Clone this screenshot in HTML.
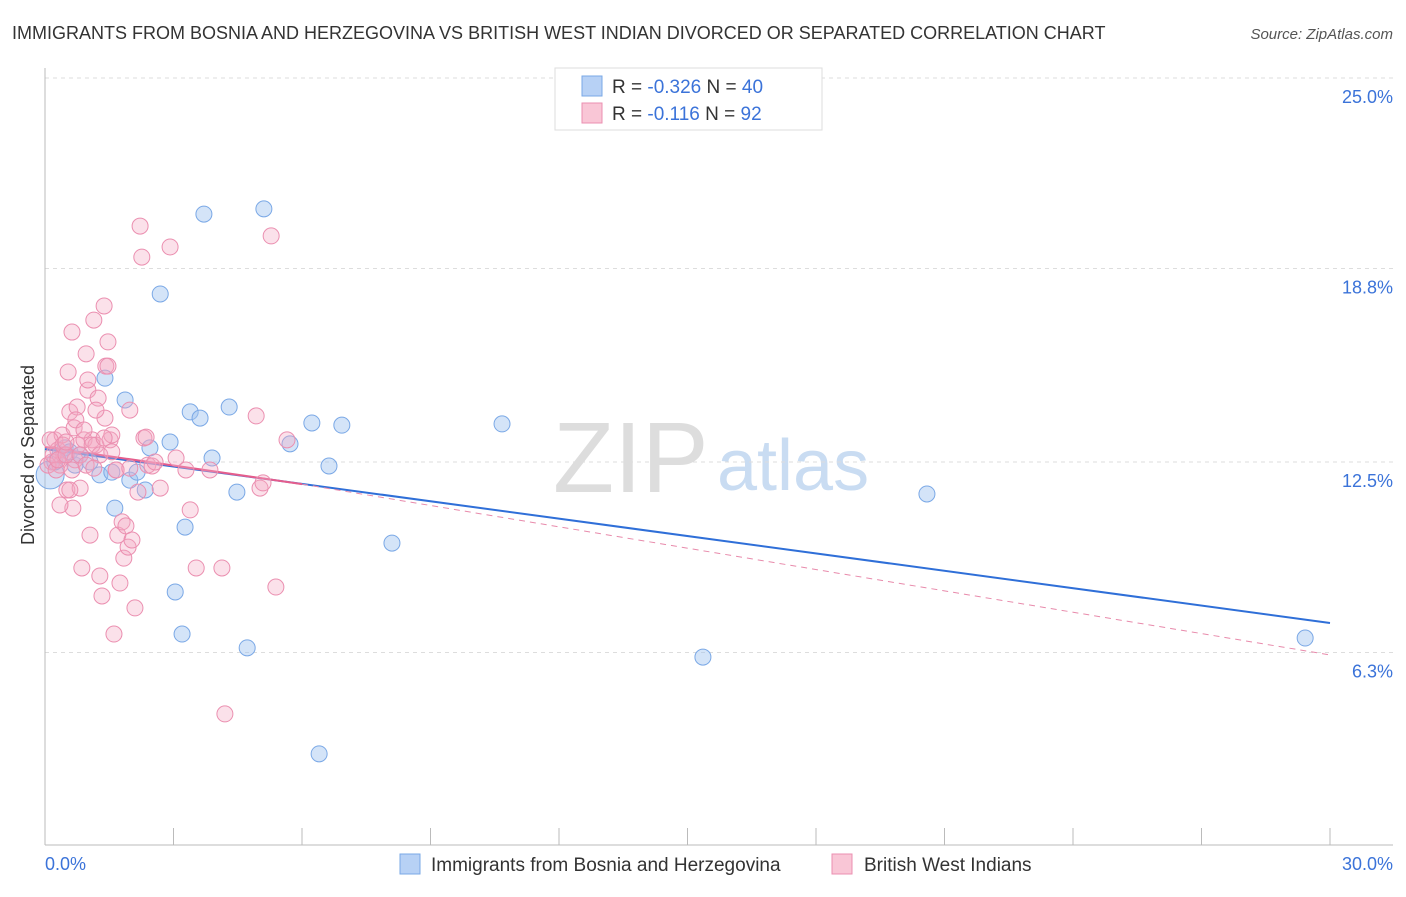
<!DOCTYPE html>
<html><head><meta charset="utf-8">
<style>
body{margin:0;background:#fff;font-family:"Liberation Sans",sans-serif;}
svg text{font-family:"Liberation Sans",sans-serif;}
</style></head>
<body>
<svg id="chart" width="1406" height="892" xmlns="http://www.w3.org/2000/svg">
<text x="12" y="39" font-size="18" fill="#333">IMMIGRANTS FROM BOSNIA AND HERZEGOVINA VS BRITISH WEST INDIAN DIVORCED OR SEPARATED CORRELATION CHART</text>
<text x="1393" y="39" font-size="15" fill="#555" font-style="italic" text-anchor="end">Source: ZipAtlas.com</text>
<g>
<text x="553" y="492" font-size="100" fill="#ddd" font-family="Liberation Serif,serif">ZIP</text>
<text x="717" y="490" font-size="72" fill="#c9dcf2">atlas</text>
</g>
<g id="grid"></g>
<g id="axes"></g>
<g id="trends"></g>
<g id="pts"></g>
<text transform="translate(34,455) rotate(-90)" font-size="18" fill="#333" text-anchor="middle">Divorced or Separated</text>
<g>
<rect x="555" y="68" width="267" height="62" fill="#fff" stroke="#ddd"/>
<rect x="582" y="76" width="20" height="20" fill="#b7d1f5" stroke="#7aa8e6"/>
<text x="612" y="93" font-size="19" fill="#333">R = <tspan fill="#3b73d9">-0.326</tspan>    N = <tspan fill="#3b73d9">40</tspan></text>
<rect x="582" y="103" width="20" height="20" fill="#f9c6d6" stroke="#eb8fb0"/>
<text x="612" y="120" font-size="19" fill="#333">R =   <tspan fill="#3b73d9">-0.116</tspan>    N =  <tspan fill="#3b73d9">92</tspan></text>
</g>
<g>
<rect x="400" y="854" width="20" height="20" fill="#b7d1f5" stroke="#7aa8e6"/>
<text x="431" y="871" font-size="19" fill="#333">Immigrants from Bosnia and Herzegovina</text>
<rect x="832" y="854" width="20" height="20" fill="#f9c6d6" stroke="#eb8fb0"/>
<text x="864" y="871" font-size="19" fill="#333">British West Indians</text>
</g>
</svg>
<script>
const xTicks=[0,3,6,9,12,15,18,21,24,27,30];
const yTicks=[25.0,18.8,12.5,6.3];
const yTickLabels=["25.0%","18.8%","12.5%","6.3%"];
const xLabels=["0.0%","30.0%"];
const blueX=[0.12,0.23,0.35,0.47,0.70,0.58,0.82,1.05,1.28,1.4,1.63,1.56,1.87,1.98,2.15,2.34,2.45,2.69,2.92,3.04,3.2,3.27,3.39,3.62,3.71,3.9,4.3,4.48,4.72,5.11,5.72,6.23,6.4,6.63,6.93,8.1,10.67,15.36,20.59,29.42];
const blueY=[12.08,12.5,12.73,12.96,12.4,12.83,12.73,12.5,12.08,15.23,11.0,12.17,14.52,11.91,12.17,11.59,12.96,17.97,13.15,8.27,6.9,10.38,14.13,13.93,20.57,12.63,14.29,11.52,6.45,20.74,13.09,13.77,3.0,12.37,13.7,9.86,13.74,6.15,11.46,6.77];
const pinkX=[0.16,0.23,0.30,0.35,0.40,0.44,0.51,0.54,0.58,0.63,0.68,0.70,0.75,0.77,0.82,0.86,0.91,0.96,1.00,1.05,1.10,1.14,1.19,1.24,1.28,1.33,1.38,1.40,1.42,1.47,1.52,1.56,1.61,1.66,1.70,1.75,1.80,1.84,1.89,1.94,1.98,2.03,2.10,2.17,2.22,2.26,2.31,2.36,2.40,2.50,2.57,2.69,2.92,3.06,3.29,3.39,3.53,3.85,4.13,4.20,4.93,5.02,5.09,5.28,5.39,5.65,0.07,0.12,0.19,0.26,0.30,0.42,0.49,0.58,0.65,0.72,0.82,0.91,1.00,1.10,1.19,1.28,1.38,1.47,1.56,1.66,0.35,0.49,0.63,0.96,1.14,1.98];
const pinkY=[12.50,13.22,12.89,12.40,13.38,12.73,11.59,15.43,14.13,16.73,13.61,12.57,14.29,13.05,11.65,9.05,13.22,16.02,14.84,10.12,13.22,17.12,13.05,14.58,8.79,8.14,17.58,13.93,15.62,16.41,13.22,13.38,6.90,12.24,10.12,8.56,10.55,9.37,10.42,9.73,14.19,9.96,7.75,11.52,20.18,19.17,13.28,13.31,12.40,12.37,12.50,11.65,19.50,12.63,12.24,10.94,9.05,12.24,9.05,4.30,14.00,11.65,11.82,19.86,8.43,13.22,12.40,13.22,12.73,12.24,12.57,13.05,12.73,11.59,11.00,13.87,12.73,13.54,15.17,13.05,14.19,12.73,13.28,15.62,12.83,12.24,11.10,13.15,12.24,12.40,12.30,12.30];
const blueTrendX=[0,30], blueTrendY=[12.92,7.26];
const pinkSolidX=[0,6.0], pinkSolidY=[12.99,11.78];
const pinkDashX=[6.0,30], pinkDashY=[11.78,6.22];

const X0=45,X1=1330,Y0=846,YTOP=78;
const sx=v=>X0+(X1-X0)*v/30;
const sy=v=>Y0-(Y0-YTOP)*v/25;
const NS="http://www.w3.org/2000/svg";
function mk(tag,parent,attrs){const e=document.createElementNS(NS,tag);for(const k in attrs)e.setAttribute(k,attrs[k]);parent.appendChild(e);return e;}
const grid=document.getElementById('grid'),axes=document.getElementById('axes'),tr=document.getElementById('trends'),pts=document.getElementById('pts');
yTicks.forEach((v,i)=>{
 const l=mk('line',grid,{x1:X0,x2:1393,y1:sy(v),y2:sy(v),stroke:'#ddd','stroke-dasharray':'4,4'});
 
 
 const t=mk('text',axes,{x:1393,y:sy(v)+25,'font-size':18,fill:'#3b73d9','text-anchor':'end'});
 t.textContent=yTickLabels[i];
 
 
});
const ax=mk('line',axes,{x1:X0,x2:1393,y1:845,y2:845,stroke:'#bbb'});


const ay=mk('line',axes,{x1:X0,x2:X0,y1:68,y2:845,stroke:'#bbb'});


xTicks.forEach(v=>{
 const t=mk('line',axes,{x1:sx(v),x2:sx(v),y1:828,y2:845,stroke:'#bbb'});
 
 
});
const xl0=mk('text',axes,{x:45,y:870,'font-size':18,fill:'#3b73d9'});xl0.textContent=xLabels[0];


const xl1=mk('text',axes,{x:1393,y:870,'font-size':18,fill:'#3b73d9','text-anchor':'end'});xl1.textContent=xLabels[1];


blueX.forEach((x,i)=>{
 const big=i===0;
 const c=mk('circle',pts,{cx:sx(x),cy:sy(blueY[i]),r:big?14:8,fill:'rgba(160,196,240,0.45)',stroke:'#7aa8e6','stroke-width':1});
 
 
});
pinkX.forEach((x,i)=>{
 const c=mk('circle',pts,{cx:sx(x),cy:sy(pinkY[i]),r:8,fill:'rgba(244,170,196,0.35)',stroke:'#eb8fb0','stroke-width':1});
 
 
});
const bt=mk('line',tr,{x1:sx(blueTrendX[0]),y1:sy(blueTrendY[0]),x2:sx(blueTrendX[1]),y2:sy(blueTrendY[1]),stroke:'#2f6fd8','stroke-width':2});


const pd=mk('line',tr,{x1:sx(pinkDashX[0]),y1:sy(pinkDashY[0]),x2:sx(pinkDashX[1]),y2:sy(pinkDashY[1]),stroke:'#e88aab','stroke-width':1,'stroke-dasharray':'6,5'});


const ps=mk('line',tr,{x1:sx(pinkSolidX[0]),y1:sy(pinkSolidY[0]),x2:sx(pinkSolidX[1]),y2:sy(pinkSolidY[1]),stroke:'#e55d8c','stroke-width':2});


</script>
</body></html>
